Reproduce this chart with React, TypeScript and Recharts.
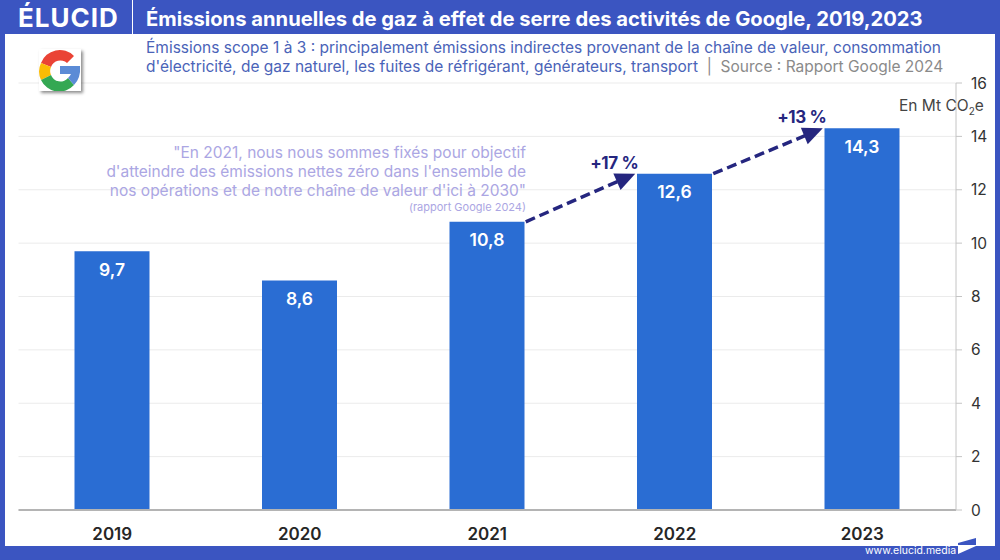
import React from 'react';
import {
  BarChart,
  Bar,
  XAxis,
  YAxis,
  CartesianGrid,
  LabelList,
  ReferenceLine,
} from 'recharts';

const years = ['2019', '2020', '2021', '2022', '2023'];
const emissions = [9.7, 8.6, 10.8, 12.6, 14.3];
const yTicks = [0, 2, 4, 6, 8, 10, 12, 14, 16];
const growthLabels = ['+17 %', '+13 %'];
const growthFrom = ['2021', '2022'];
const growthTo = ['2022', '2023'];
const quoteLines = [
  '"En 2021, nous nous sommes fixés pour objectif',
  "d'atteindre des émissions nettes zéro dans l'ensemble de",
  'nos opérations et de notre chaîne de valeur d\'ici à 2030"',
];

const data = years.map((year, i) => ({ year, value: emissions[i] }));
const valueOf = (year: string) => emissions[years.indexOf(year)];

const BLUE = '#3b55c1';
const BAR = '#2a6dd3';
const NAVY = '#25267f';
const FONT = 'Inter, sans-serif';
const BAR_WIDTH = 75;

const GrowthArrow = ({ x1, y1, x2, y2, label }: any) => {
  const startX = x1 + BAR_WIDTH / 2 + 1;
  const endX = x2 - BAR_WIDTH / 2 - 2;
  const angle = Math.atan2(y2 - y1, endX - startX);
  const deg = (angle * 180) / Math.PI;
  return (
    <g>
      <line
        x1={startX}
        y1={y1}
        x2={endX - 16 * Math.cos(angle)}
        y2={y2 - 16 * Math.sin(angle)}
        stroke={NAVY}
        strokeWidth={3.5}
        strokeDasharray="10 5"
      />
      <polygon
        points="0,0 -20,-9 -20,9"
        fill={NAVY}
        transform={`translate(${endX},${y2}) rotate(${deg})`}
      />
      <text
        x={endX - 21}
        y={y2 - 5}
        textAnchor="middle"
        fontFamily={FONT}
        fontWeight={700}
        fontSize={17}
        letterSpacing={-0.4}
        fill={NAVY}
      >
        {label}
      </text>
    </g>
  );
};

const GoogleLogo = () => (
  <svg
    width={42}
    height={42}
    viewBox="0 0 42 42"
    style={{
      position: 'absolute',
      left: 39,
      top: 49,
      background: '#fff',
      boxShadow: '2px 2px 3px rgba(0,0,0,0.45)',
    }}
  >
    <path d="M2 14 A20 20 0 0 1 35 7 L28 14 A10 10 0 0 0 12 18 Z" fill="#ea4335" />
    <path d="M2 14 L12 18 A10 10 0 0 0 12 26 L2 31 A20 20 0 0 1 2 14 Z" fill="#fbbc05" />
    <path d="M2 31 L12 26 A10 10 0 0 0 29 29 L35 36 A20 20 0 0 1 2 31 Z" fill="#34a853" />
    <path d="M21 17 H41 Q42 29 35 36 L29 29 Q31 27 32 25 H21 Z" fill="#5b8bd6" />
  </svg>
);

const text = (style: React.CSSProperties): React.CSSProperties => ({
  position: 'absolute',
  whiteSpace: 'nowrap',
  fontFamily: FONT,
  ...style,
});

const App = () => {
  return (
    <div
      style={{
        position: 'fixed',
        left: 0,
        top: 0,
        width: 1000,
        height: 560,
        background: BLUE,
        overflow: 'hidden',
      }}
    >
      <div style={{ position: 'absolute', left: 5, top: 34, width: 990, height: 512, background: '#fff' }} />

      <div style={{ position: 'absolute', left: 0, top: 0 }}>
        <BarChart
          width={1000}
          height={560}
          data={data}
          barSize={BAR_WIDTH}
          margin={{ top: 83, right: 0, bottom: 0, left: 18.5 }}
        >
          <CartesianGrid horizontal vertical={false} stroke="#ebebeb" />
          <XAxis
            dataKey="year"
            height={50}
            tickLine={false}
            tickMargin={12}
            stroke="#b4b4b4"
            strokeWidth={2}
            tick={{ fontFamily: FONT, fontSize: 17, fontWeight: 600, fill: '#262626' }}
          />
          <YAxis
            orientation="right"
            width={44}
            domain={[0, 16]}
            ticks={yTicks}
            interval={0}
            stroke="#c4c4c4"
            tickSize={6}
            tickMargin={9}
            tick={{ fontFamily: FONT, fontSize: 15.5, fill: '#333' }}
          />
          <Bar dataKey="value" fill={BAR} isAnimationActive={false}>
            <LabelList
              dataKey="value"
              position="insideTop"
              offset={12}
              formatter={(v: any) => String(v).replace('.', ',')}
              style={{ fontFamily: FONT, fontSize: 17.5, fontWeight: 600, fill: '#fff' }}
            />
          </Bar>
          {growthLabels.map((label, i) => (
            <ReferenceLine
              key={label}
              segment={[
                { x: growthFrom[i], y: valueOf(growthFrom[i]) },
                { x: growthTo[i], y: valueOf(growthTo[i]) },
              ]}
              shape={(props: any) => <GrowthArrow {...props} label={label} />}
            />
          ))}
        </BarChart>
      </div>

      {/* header */}
      <div style={text({ left: 18, top: -1, fontSize: 26, fontWeight: 700, color: '#fff', letterSpacing: 1, lineHeight: '38px' })}>ÉLUCID</div>
      <div style={{ position: 'absolute', left: 132, top: 0, width: 1, height: 34, background: '#fff' }} />
      <div style={text({ left: 146, top: 4, fontSize: 20.2, fontWeight: 700, color: '#fff', lineHeight: '30px' })}>
        Émissions annuelles de gaz à effet de serre des activités de Google, 2019,2023
      </div>

      {/* subtitle */}
      <div style={text({ left: 146, top: 38, fontSize: 15.5, color: '#4a63b8', lineHeight: '19px' })}>
        Émissions scope 1 à 3 : principalement émissions indirectes provenant de la chaîne de valeur, consommation
      </div>
      <div style={text({ left: 146, top: 57, fontSize: 15.5, color: '#4a63b8', lineHeight: '19px' })}>
        d'électricité, de gaz naturel, les fuites de réfrigérant, générateurs, transport
        <span style={{ color: '#8a8a8a' }}>&nbsp; | &nbsp;Source : Rapport Google 2024</span>
      </div>

      <GoogleLogo />

      {/* quote */}
      {quoteLines.map((line, i) => (
        <div key={i} style={text({ right: 474, top: 143 + i * 19, fontSize: 15.5, color: '#aba6e3', lineHeight: '19px' })}>
          {line}
        </div>
      ))}
      <div style={text({ right: 474, top: 200, fontSize: 11, color: '#aba6e3', lineHeight: '14px' })}>
        (rapport Google 2024)
      </div>

      {/* unit */}
      <div style={text({ left: 899, top: 96, fontSize: 15.5, color: '#444', lineHeight: '20px' })}>
        En Mt CO<sub style={{ fontSize: 10, lineHeight: 0 }}>2</sub>e
      </div>

      {/* footer */}
      <div style={text({ left: 865, top: 544, fontSize: 10.5, color: '#fff', lineHeight: '14px' })}>www.elucid.media</div>
      <svg width={20} height={20} style={{ position: 'absolute', left: 957, top: 537 }}>
        <polygon points="1,6 19,1 19,8 1,8" fill={BLUE} />
        <polygon points="1,9 19,9 1,17" fill="#fff" />
      </svg>
    </div>
  );
};

export default App;
